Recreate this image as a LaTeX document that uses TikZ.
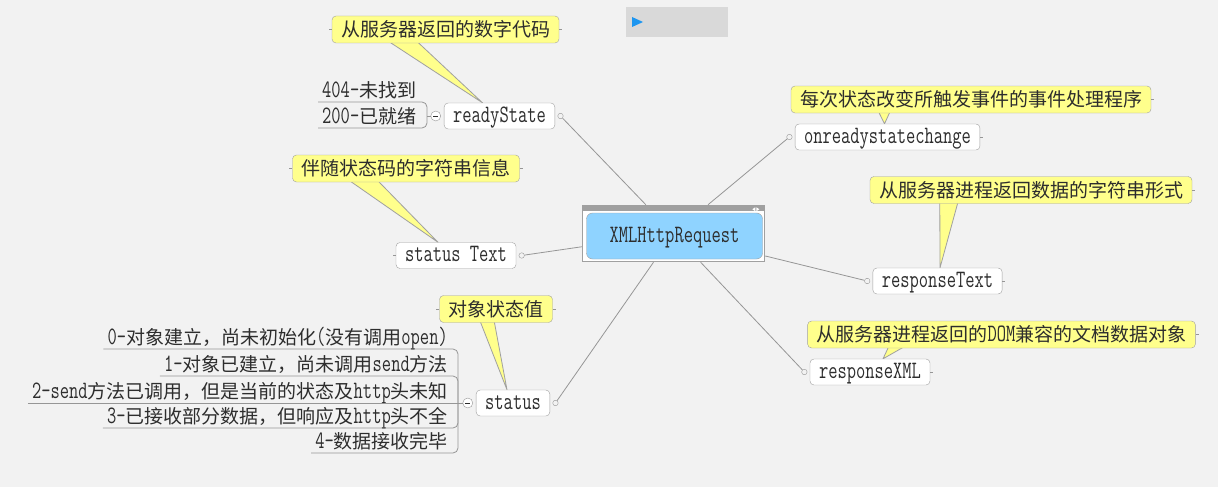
\documentclass[tikz,border=0pt]{standalone}
\usepackage{fontspec}
\setmonofont[FakeStretch=0.72]{Latin Modern Mono}
\newfontfamily\cjk{Noto Sans CJK SC}
\usetikzlibrary{positioning,calc}

\definecolor{bggray}{RGB}{242,242,242}
\definecolor{linegray}{RGB}{150,150,150}
\definecolor{boxgray}{RGB}{160,160,160}
\definecolor{noteyellow}{RGB}{255,255,140}
\definecolor{xhrblue}{RGB}{143,211,255}
\definecolor{textgray}{RGB}{45,45,45}
\definecolor{barblue}{RGB}{30,150,240}
\definecolor{bargray}{RGB}{217,217,217}

\newcommand\zhtxt[1]{{\cjk\fontsize{19}{20}\selectfont #1}}
\newcommand\entxt[1]{{\ttfamily\fontsize{25}{26}\selectfont #1}}

\pgfdeclarelayer{back}
\pgfdeclarelayer{tail}
\pgfsetlayers{back,tail,main}

\tikzset{
  topic/.style={draw=boxgray, fill=white, rounded corners=4pt, minimum height=26pt,
    inner xsep=9pt, inner ysep=0pt, text height=13pt, text depth=1pt, text=textgray,
    font=\ttfamily\fontsize{25}{26}\selectfont},
  note/.style={draw=boxgray, fill=noteyellow, rounded corners=4pt, minimum height=27pt,
    inner xsep=9pt, inner ysep=0pt, text height=15pt, text depth=1pt, text=textgray,
    font=\cjk\fontsize{19}{20}\selectfont},
  leaf/.style={inner xsep=4pt, inner ysep=0pt, text height=15pt, text depth=4.5pt,
    text=textgray, font=\ttfamily\fontsize{25}{26}\selectfont},
  knob/.style={circle, draw=linegray, fill=bggray, inner sep=0pt, minimum size=5.5pt},
  fold/.style={circle, draw=linegray, fill=white, inner sep=0pt, minimum size=10pt,
    path picture={\draw[textgray] ([xshift=-2.5pt]path picture bounding box.center)
      -- ([xshift=2.5pt]path picture bounding box.center);}},
  link/.style={draw=linegray, line width=0.8pt},
  branch/.style={draw=linegray, line width=0.8pt, rounded corners=5pt},
  tailpath/.style={draw=boxgray, fill=noteyellow, line width=0.8pt, line join=round},
}

\begin{document}
\begin{tikzpicture}[x=1pt,y=-1pt]
  \useasboundingbox (0,0) rectangle (1218,487);
  \begin{pgfonlayer}{back}
    \fill[bggray] (0,0) rectangle (1218,487);
  \end{pgfonlayer}

  % toolbar
  \fill[bargray] (626,7) rectangle (728,37);
  \fill[barblue] (632,17) -- (643,22) -- (632,27) -- cycle;

  % central topic
  \node[draw=boxgray, line width=1.5pt, fill=white, minimum width=182pt,
    minimum height=56pt, inner sep=0pt] (xhr) at (673.5,233.5) {};
  \fill[boxgray] (xhr.north west) rectangle ($(xhr.north east)+(0,6)$);
  \fill[white] ($(xhr.north east)+(-10,2.5)$) -- ++(-3,2) -- ++(3,2) -- cycle;
  \fill[white] ($(xhr.north east)+(-9,2.5)$) -- ++(3,2) -- ++(-3,2) -- cycle;
  \node[draw=boxgray, fill=xhrblue, rounded corners=6pt, minimum width=176pt,
    minimum height=46pt, text height=13pt, text depth=1pt, text=textgray,
    font=\ttfamily\fontsize{25}{26}\selectfont]
    (xhrbox) at (674.5,236) {XMLHttpRequest};

  % topics
  \node[topic] (ready) at (499.5,116) {readyState};
  \node[topic] (onready) at (887.5,137) {onreadystatechange};
  \node[topic] (resptext) at (937.5,281) {responseText};
  \node[topic] (respxml) at (870,372) {responseXML};
  \node[topic] (stattext) at (456,255.5) {status Text};
  \node[topic] (status) at (513,403) {status};

  \node[knob, right=2.5pt of ready] (readyknob) {};
  \node[knob, left=2.5pt of onready] (onreadyknob) {};
  \node[knob, left=2.5pt of resptext] (resptextknob) {};
  \node[knob, left=2.5pt of respxml] (respxmlknob) {};
  \node[knob, right=2.5pt of stattext] (stattextknob) {};
  \node[knob, right=2.5pt of status] (statusknob) {};

  \node[fold, left=3pt of ready] (readyfold) {};
  \node[fold, left=3pt of status] (statusfold) {};

  % leaves
  \node[leaf, anchor=south west] (r404) at (318,102) {404-\zhtxt{未找到}};
  \node[leaf, anchor=south west] (r200) at (318,128) {200-\zhtxt{已就绪}};
  \coordinate (readyfork) at (427,116);

  \node[leaf, anchor=south east] (s0) at (452,349) {0-\zhtxt{对象建立，尚未初始化}(\zhtxt{没有调用}open)};
  \node[leaf, anchor=south east] (s1) at (452,376) {1-\zhtxt{对象已建立，尚未调用}send\zhtxt{方法}};
  \node[leaf, anchor=south east] (s2) at (452,403) {2-send\zhtxt{方法已调用，但是当前的状态及}http\zhtxt{头未知}};
  \node[leaf, anchor=south east] (s3) at (452,428) {3-\zhtxt{已接收部分数据，但响应及}http\zhtxt{头不全}};
  \node[leaf, anchor=south east] (s4) at (452,453) {4-\zhtxt{数据接收完毕}};
  \coordinate (statusfork) at (458,403);

  % callouts
  \node[note] (readynote) at (445.5,29.5) {从服务器返回的数字代码};
  \node[note] (onreadynote) at (971,99.5) {每次状态改变所触发事件的事件处理程序};
  \node[note] (resptextnote) at (1031,190) {从服务器进程返回数据的字符串形式};
  \node[note] (respxmlnote) at (1001.5,334.5) {从服务器进程返回的\entxt{DOM}兼容的文档数据对象};
  \node[note] (stattextnote) at (406,168.5) {伴随状态码的字符串信息};
  \node[note] (statusnote) at (496,309) {对象状态值};

  \begin{pgfonlayer}{tail}
    \foreach \n/\t/\a/\b/\d in {readynote/ready/58/86/-17, onreadynote/onready/88/99/-3,
        resptextnote/resptext/70/88/2.5, respxmlnote/respxml/81/96/13,
        stattextnote/stattext/58/86/-18, statusnote/status/41/55/-6}
      \path[tailpath] ($(\n.south west)+(\a,-1)$) -- ($(\t.north)+(\d,0)$) -- ($(\n.south west)+(\b,-1)$);
  \end{pgfonlayer}

  % connectors
  \foreach \k in {readyknob,onreadyknob,resptextknob,respxmlknob,stattextknob,statusknob}
    \draw[link] (xhr) -- (\k);

  \draw[branch] (r404.south west) -- (r404.south west -| readyfork)
    -- (r200.south west -| readyfork) -- (r200.south west);
  \draw[link] (readyfork) -- (readyfold);

  \foreach \s in {s0,s1,s3,s4}
    \draw[branch] (\s.south west) -- (\s.south west -| statusfork) -- (statusfork);
  \draw[link] (s2.south west) -- (statusfold);

  % stubs
  \foreach \n in {readynote,stattextnote,statusnote,stattext}
    \draw[link] (\n.west) -- ++(-3,0);
  \foreach \n in {readynote,stattextnote,statusnote,onreadynote,resptextnote,respxmlnote,onready,resptext,respxml}
    \draw[link] (\n.east) -- ++(3,0);
\end{tikzpicture}
\end{document}
